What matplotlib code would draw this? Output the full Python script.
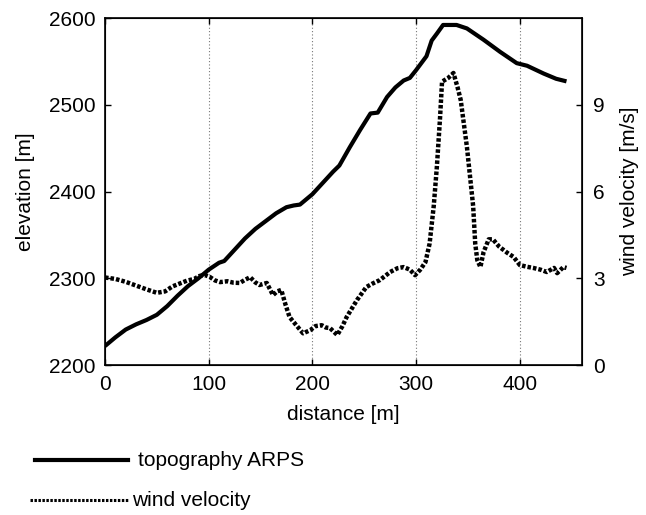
import matplotlib
matplotlib.use("Agg")
import matplotlib.pyplot as plt
from matplotlib.lines import Line2D

plt.rcParams['font.family'] = ['Liberation Sans', 'DejaVu Sans']

topo_x = [0, 10, 20, 30, 40, 50, 60, 70, 80, 90, 100, 110, 115, 125, 135, 145, 155, 165, 175, 182,
          188, 195, 200, 210, 220, 226, 236, 246, 256, 263, 272, 280, 288, 294, 300, 310, 315, 320,
          326, 339, 349, 365, 381, 397, 407, 423, 435, 445]
topo_z = [2222, 2232, 2241, 2247, 2252, 2258, 2268, 2280, 2291, 2300, 2310, 2318, 2320, 2333, 2346,
          2357, 2366, 2375, 2382, 2384, 2385, 2392, 2397, 2410, 2423, 2430, 2451, 2471, 2490, 2491,
          2509, 2520, 2528, 2531, 2540, 2556, 2574, 2582, 2592, 2592, 2588, 2575, 2561, 2548, 2545,
          2536, 2530, 2527]

wind_x = [0, 10, 20, 30, 40, 50, 58, 65, 72, 79, 86, 91, 96, 101, 106, 111, 118, 124, 130, 135,
          140, 145, 149, 156, 162, 166, 170, 174, 178, 184, 191, 198, 203, 209, 213, 217, 224, 229,
          233, 243, 252, 258, 265, 275, 282, 288, 294, 299, 304, 309, 313, 317, 320, 323, 325, 331,
          336, 340, 343, 349, 355, 357, 359, 362, 365, 370, 374, 380, 388, 394, 400, 407, 413, 420,
          426, 433, 436, 442, 445]
wind_v = [3.03, 2.98, 2.88, 2.75, 2.62, 2.50, 2.55, 2.72, 2.82, 2.92, 2.98, 3.08, 3.12, 3.05, 2.93,
          2.87, 2.90, 2.85, 2.84, 2.95, 3.04, 2.86, 2.77, 2.84, 2.42, 2.55, 2.60, 2.10, 1.66, 1.40,
          1.10, 1.21, 1.35, 1.38, 1.30, 1.28, 1.04, 1.35, 1.66, 2.25, 2.70, 2.82, 2.94, 3.22, 3.35,
          3.39, 3.30, 3.11, 3.30, 3.56, 4.20, 5.50, 6.85, 8.50, 9.80, 9.93, 10.10, 9.60, 9.17, 7.54,
          5.50, 4.20, 3.63, 3.39, 3.90, 4.35, 4.35, 4.10, 3.88, 3.74, 3.46, 3.40, 3.36, 3.30, 3.22,
          3.36, 3.18, 3.39, 3.36]

x_ticks = [0, 100, 200, 300, 400]
elev_ticks = [2200, 2300, 2400, 2500, 2600]
wind_ticks = [0, 3, 6, 9]
series_names = ['topography ARPS', 'wind velocity']

FS = 15
fig = plt.figure(figsize=(6.46, 5.15), dpi=100)
ax = fig.add_axes([0.1625, 0.291, 0.7385, 0.674])
ax.plot(topo_x, topo_z, color='black', lw=3.0, solid_capstyle='butt')
ax.set_xlim(0, 460)
ax.set_ylim(2200, 2600)
ax.set_xticks(x_ticks)
ax.set_yticks(elev_ticks)
for xv in x_ticks[1:]:
    ax.axvline(xv, color='#777777', lw=0.8, ls=(0, (1, 2)), zorder=0)
ax.tick_params(labelsize=FS, direction='in', length=4, width=1, pad=7, top=True)
ax.set_xlabel('distance [m]', fontsize=FS, labelpad=8)
ax.set_ylabel('elevation [m]', fontsize=FS, labelpad=10)
for s in ax.spines.values():
    s.set_linewidth(1.2)

ax2 = ax.twinx()
ax2.plot(wind_x, wind_v, color='black', lw=3.2, ls=(0, (0.8, 0.45)))
ax2.set_ylim(0, 12)
ax2.set_yticks(wind_ticks)
ax2.tick_params(labelsize=FS, direction='in', length=4, width=1, pad=8)
ax2.set_ylabel('wind velocity [m/s]', fontsize=FS, labelpad=11)

# legend below the axes
fig.add_artist(Line2D([35/646, 128/646], [1 - 460/515, 1 - 460/515], color='black', lw=3.0,
                      transform=fig.transFigure))
fig.add_artist(Line2D([30/646, 128/646], [1 - 500/515, 1 - 500/515], color='black', lw=2.2,
                      ls=(0, (0.8, 0.5)), transform=fig.transFigure))
fig.text(138/646, 1 - 460/515, series_names[0], fontsize=FS, va='center', ha='left')
fig.text(132/646, 1 - 500/515, series_names[1], fontsize=FS, va='center', ha='left')

fig.savefig('out.png', dpi=100)
